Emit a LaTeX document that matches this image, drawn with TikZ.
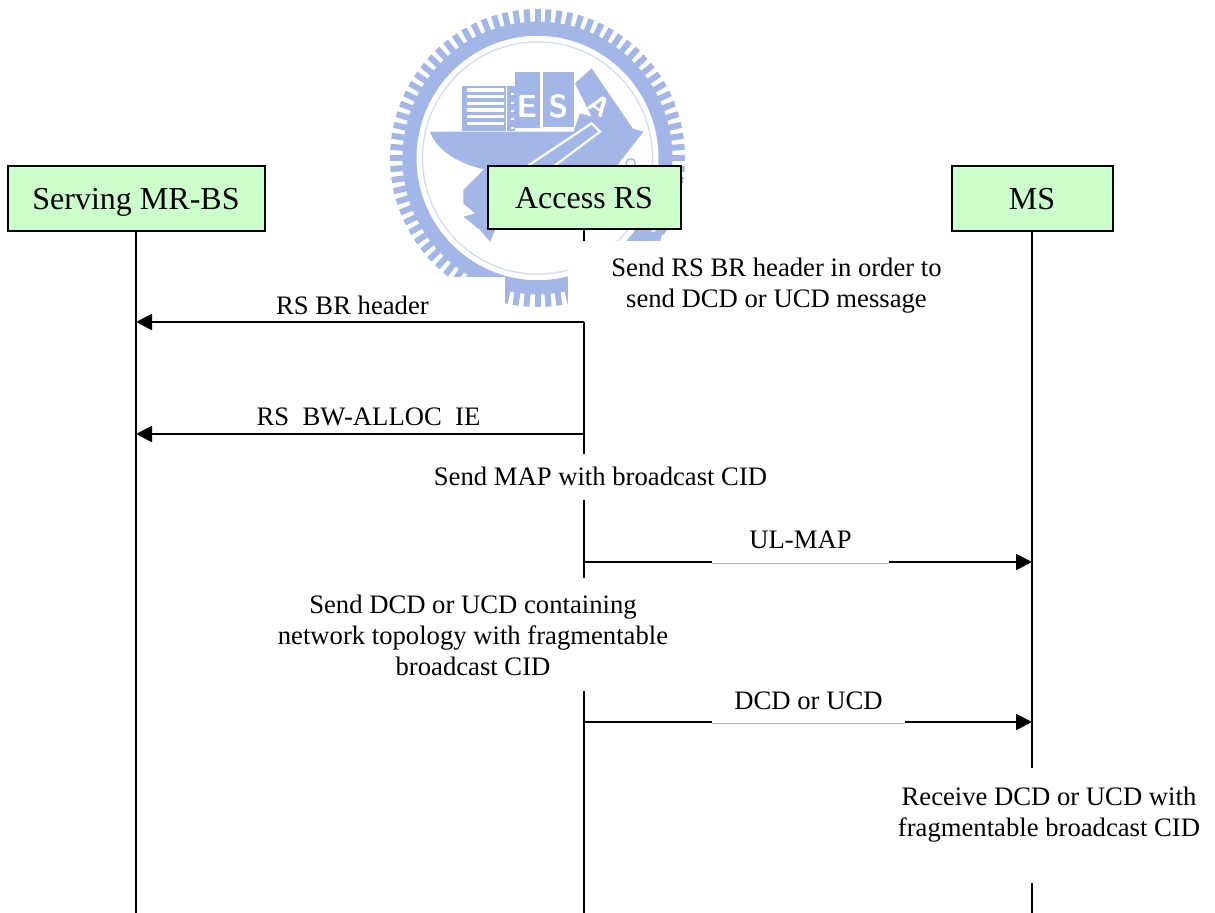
\documentclass[tikz,border=0pt]{standalone}
\usepackage{fontspec}
\setmainfont{Liberation Serif}
\usetikzlibrary{arrows.meta}
\definecolor{wm}{HTML}{A3B6E8}
\definecolor{wmlight}{HTML}{D3DCF4}
\definecolor{boxgreen}{HTML}{CCFFCC}
\tikzset{
  actor/.style={draw=black,fill=boxgreen,line width=1.5pt,inner sep=0pt,text height=21pt,text depth=5pt,font=\fontsize{24}{28}\selectfont},
  life/.style={draw=black,line width=1.5pt},
  msg/.style={draw=black,line width=1.6pt},
  msgtip/.style={msg,-{Triangle[length=12pt,width=12pt]}},
  gapline/.style={draw=gray!60,line width=0.75pt},
  lbl/.style={inner sep=0pt,align=center,font=\fontsize{20}{23.25}\selectfont},
  logo/.style={fill=wm,draw=none},
  logocut/.style={fill=white,draw=none}
}
\begin{document}
\begin{tikzpicture}[x=0.75pt,y=-0.75pt]
\useasboundingbox (0,0) rectangle (1215,913);
% watermark ring
\begin{scope}[shift={(537.5,158)},yscale=1.01]
  \foreach \a in {0,4.2857,...,356}
    \fill[wm,rotate=\a] (126,-3) rectangle (147.5,3);
  \fill[wm,even odd rule] (0,0) circle[radius=135] (0,0) circle[radius=121];
  \draw[wmlight,line width=1pt] (0,0) circle[radius=115];
\end{scope}
% watermark ship, in the crop's coordinates
\begin{scope}[shift={(380,0)},x=0.25pt,y=-0.25pt]
  \fill[logo] (150,395) -- (790,395) -- (700,510) -- (320,510) .. controls (230,490) and (170,450) .. (150,395) -- cycle;
  \fill[logo] (245,258) rectangle (378,392);
  \foreach \yy in {265,285,305,325,345,365}
    \fill[logocut] (262,\yy) rectangle (372,\yy+10);
  \fill[logo] (380,258) rectangle (405,392);
  \foreach \yy in {280,305,330,355,380}
    \fill[white] (392,\yy) rectangle (402,\yy+6);
  \fill[logo] (405,215) rectangle (480,385);
  \fill[logo] (490,215) rectangle (582,382);
  \fill[logo] (585,250) -- (635,205) -- (758,385) -- (680,440) -- cycle;
  \fill[logo] (600,340) -- (790,395) -- (700,510) -- (540,510) -- cycle;
  \draw[white,line width=1.6pt] (440,500) -- (635,370) -- (660,395) -- (520,500);
  \fill[wm] (480,490) -- (625,385) -- (640,400) -- (520,490) -- cycle;
  \node[text=white,inner sep=0pt,font=\bfseries\sffamily\fontsize{24}{24}\selectfont] (letE) at (441,318) {E};
  \node[text=white,inner sep=0pt,font=\bfseries\sffamily\fontsize{24}{24}\selectfont] (letS) at (535,318) {S};
  \node[text=white,inner sep=0pt,rotate=-35,font=\bfseries\sffamily\fontsize{20}{20}\selectfont] (letA) at (660,318) {A};
  \draw[wm,line width=1pt] (752,490) circle[radius=14];
  \fill[logo] (250,570) -- (320,500) -- (345,500) -- (345,690) -- (330,725) -- (300,690) -- (250,650) -- (285,640) -- (250,610) -- cycle;
  \fill[logo] (760,705) -- (850,690) -- (840,725) -- (770,725) -- cycle;
\end{scope}
% white covers of the text frames
\fill[white] (380,277.5) rectangle (505,330);
\fill[white] (568,241.5) rectangle (760,330);
% lifeline ends
\coordinate (sEnd) at (136,913);
\coordinate (aStubEnd) at (584,241);
\coordinate (aA) at (584,322); \coordinate (aB) at (584,454);
\coordinate (aC) at (584,500); \coordinate (aD) at (584,578);
\coordinate (aE) at (584,691); \coordinate (aF) at (584,913);
\coordinate (mB) at (1032,768);
\coordinate (mC) at (1032,883); \coordinate (mD) at (1032,913);
% actors
\node[actor,minimum width=192.75pt,minimum height=48.75pt] (srv) at (136,198.5) {Serving MR-BS};
\node[actor,minimum width=144.75pt,minimum height=47.25pt] (acc) at (584,197.5) {Access RS};
\node[actor,minimum width=120.75pt,minimum height=48.75pt] (ms) at (1032,198.5) {MS};
% lifelines
\draw[life] (srv.south) -- (sEnd);
\draw[life] (acc.south) -- (aStubEnd);
\draw[life] (aA) -- (aB);
\draw[life] (aC) -- (aD);
\draw[life] (aE) -- (aF);
\draw[life] (ms.south) -- (mB);
\draw[life] (mC) -- (mD);
% message ends
\coordinate (s1) at (136,322); \coordinate (s2) at (136,434);
\coordinate (a2) at (584,434);
\coordinate (a3) at (584,562); \coordinate (g3a) at (712,562); \coordinate (g3b) at (889,562); \coordinate (m3) at (1032,562);
\coordinate (a4) at (584,722); \coordinate (g4a) at (712,722); \coordinate (g4b) at (905,722); \coordinate (m4) at (1032,722);
% messages
\draw[msgtip] (aA) -- (s1);
\draw[msgtip] (a2) -- (s2);
\draw[msg] (a3) -- (g3a);
\draw[gapline] ([yshift=-0.75pt]g3a) -- ([yshift=-0.75pt]g3b);
\draw[msgtip] (g3b) -- (m3);
\draw[msg] (a4) -- (g4a);
\draw[gapline] ([yshift=-0.75pt]g4a) -- ([yshift=-0.75pt]g4b);
\draw[msgtip] (g4b) -- (m4);
% labels
\node[lbl] (t1) at (776.5,285.5) {Send RS BR header in order to\\send DCD or UCD message};
\node[lbl] (t2) at (352.5,305) {RS BR header};
\node[lbl] (t3) at (368.5,417) {RS\ \ BW-ALLOC\ \ IE};
\node[lbl] (t4) at (600.5,476) {Send MAP with broadcast CID};
\node[lbl] (t5) at (800.5,540) {UL-MAP};
\node[lbl] (t6) at (473,635) {Send DCD or UCD containing\\network topology with fragmentable\\broadcast CID};
\node[lbl] (t7) at (808.5,701) {DCD or UCD};
\node[lbl] (t8) at (1049,814.5) {Receive DCD or UCD with\\fragmentable broadcast CID};
\end{tikzpicture}
\end{document}
